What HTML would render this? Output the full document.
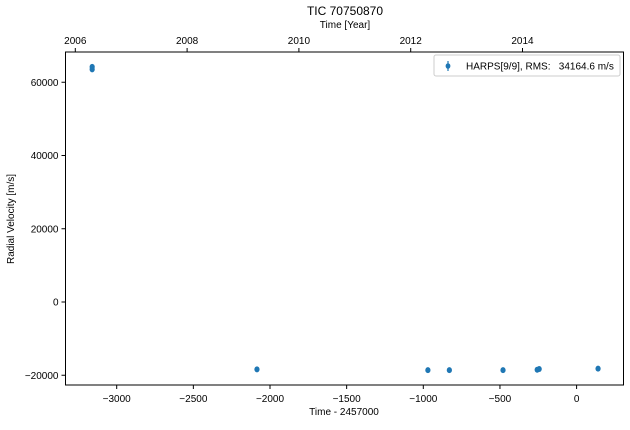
<!DOCTYPE html>
<html><head><meta charset="utf-8"><style>
body{margin:0;background:#fff;}
svg{font-family:"Liberation Sans",Arial,sans-serif;}
</style></head><body>
<svg id="c" width="630" height="425" xmlns="http://www.w3.org/2000/svg"></svg>
<script>
const times=[-3160,-3160,-2085,-970,-830,-480,-257,-244,140];
const rvs=[64200,63500,-18400,-18600,-18600,-18600,-18500,-18300,-18200];
const xTicks=[-3000,-2500,-2000,-1500,-1000,-500,0];
const yTicks=[-20000,0,20000,40000,60000];
const yearTicks=[2006,2008,2010,2012,2014];
const L=65.5,R=623.5,T=52,B=385;
const sx=v=>576.6+(v)*(0.15330);
const sy=v=>302+(-v)*(293/80000);
const syr=y=>75.3+(y-2006)*55.9;
const svg=document.getElementById('c');
const NS='http://www.w3.org/2000/svg';
function mk(t,a,txt){const e=document.createElementNS(NS,t);for(const k in a)e.setAttribute(k,a[k]);if(txt!==undefined)e.textContent=txt;svg.appendChild(e);return e;}
let e;
e=mk('rect',{x:L,y:T,width:R-L,height:B-T,fill:'none',stroke:'#000','stroke-width':1});


xTicks.forEach(v=>{const x=sx(v);
 e=mk('line',{x1:x,x2:x,y1:B,y2:B+4,stroke:'#000'});
 
 
 e=mk('text',{x:x,y:B+17,'font-size':10,'text-anchor':'middle'},v<0?'\u2212'+(-v):String(v));
 
 });
yTicks.forEach(v=>{const y=sy(v);
 e=mk('line',{x1:L-4,x2:L,y1:y,y2:y,stroke:'#000'});
 
 
 e=mk('text',{x:L-7,y:y+3.5,'font-size':10,'text-anchor':'end'},v<0?'\u2212'+(-v):String(v));
 
 });
yearTicks.forEach(v=>{const x=syr(v);
 e=mk('line',{x1:x,x2:x,y1:T-4,y2:T,stroke:'#000'});
 
 
 e=mk('text',{x:x,y:T-8,'font-size':10,'text-anchor':'middle'},String(v));
 
 });
times.forEach((t,i)=>{
 e=mk('ellipse',{cx:sx(t),cy:sy(rvs[i]),rx:2.6,ry:3,fill:'#1f77b4'});
 
 });
e=mk('text',{x:345,y:15,'font-size':12,'text-anchor':'middle'},'TIC 70750870');


e=mk('text',{x:345,y:28,'font-size':10,'text-anchor':'middle'},'Time [Year]');


e=mk('text',{x:344,y:415,'font-size':10,'text-anchor':'middle'},'Time - 2457000');


e=mk('text',{x:14,y:219,'font-size':10,'text-anchor':'middle',transform:'rotate(-90 14 219)'},'Radial Velocity [m/s]');


e=mk('rect',{x:434,y:55,width:186,height:21,rx:2,fill:'#fff',stroke:'#ccc'});


e=mk('line',{x1:448,x2:448,y1:61,y2:71,stroke:'#1f77b4','stroke-width':1.2});


e=mk('ellipse',{cx:448,cy:66,rx:2.4,ry:2.8,fill:'#1f77b4'});


e=mk('text',{x:466,y:69.5,'font-size':10},'HARPS[9/9], RMS:   34164.6 m/s');


e.setAttribute('xml:space','preserve');
e.style.whiteSpace='pre';
</script>
</body></html>
